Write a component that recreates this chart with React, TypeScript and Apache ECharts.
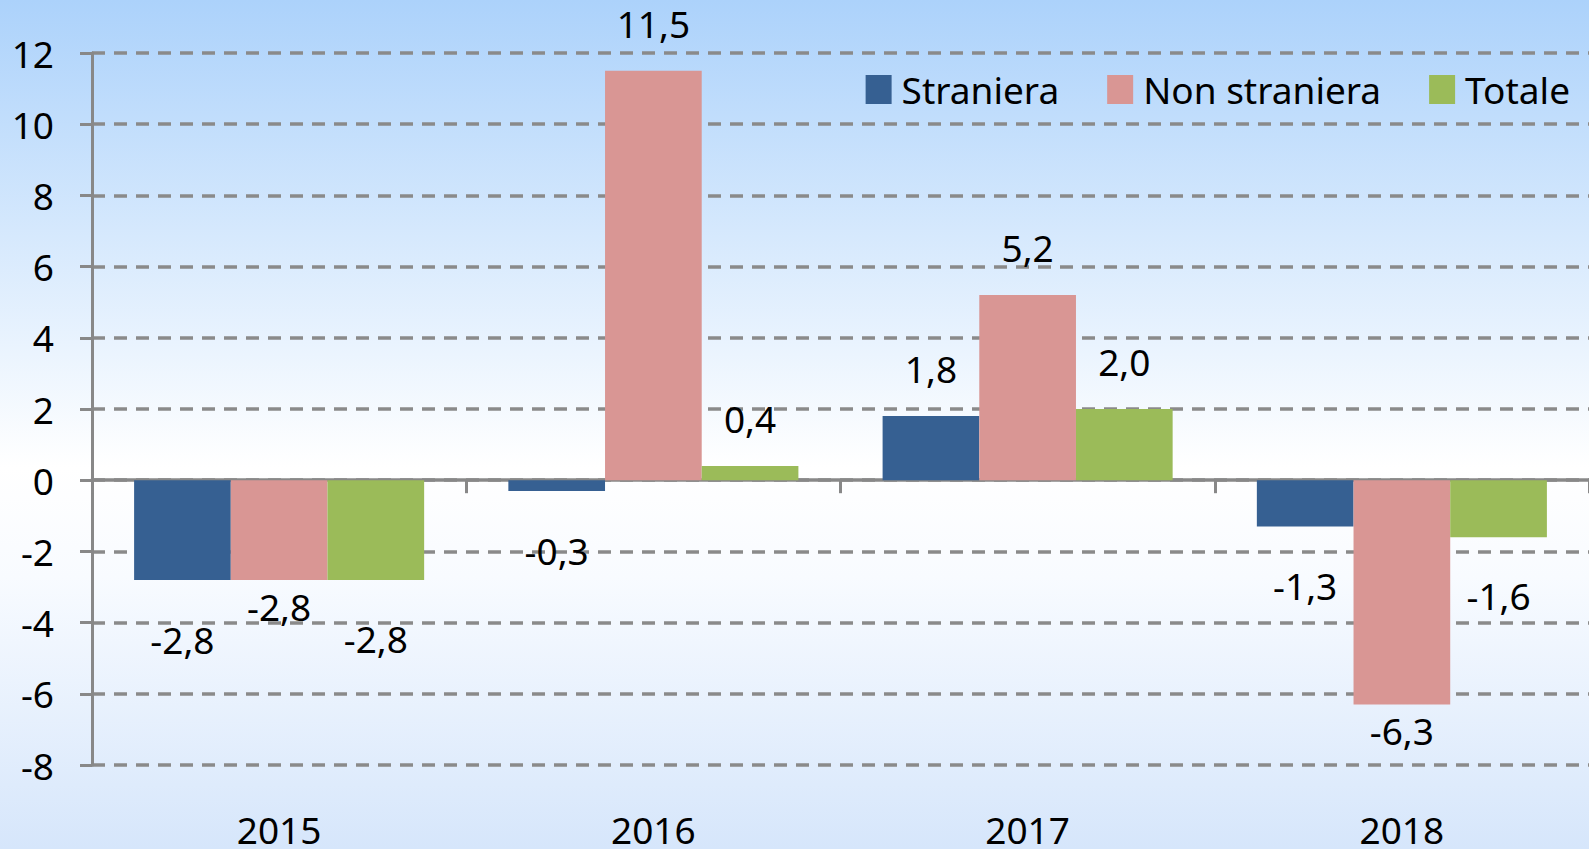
import React, { useEffect, useRef } from "react";
import * as echarts from "echarts";

const years = ["2015", "2016", "2017", "2018"];
const straniera = [-2.8, -0.3, 1.8, -1.3];
const nonStraniera = [-2.8, 11.5, 5.2, -6.3];
const totale = [-2.8, 0.4, 2.0, -1.6];
const seriesNames = ["Straniera", "Non straniera", "Totale"];
const colors = ["#366092", "#d99694", "#9bbb59"];
const yTicks = { min: -8, max: 12, interval: 2 };

const FONT = "'Noto Sans', sans-serif";
const FS = 37;
const fmt = (v: number) => v.toFixed(1).replace(".", ",");

function makeData(values: number[], negDistance: number) {
  return values.map((v) => ({
    value: v,
    label: {
      position: v < 0 ? "bottom" : "top",
      distance: v < 0 ? negDistance : 29,
    },
  }));
}

export default function App() {
  const ref = useRef<HTMLDivElement>(null);
  useEffect(() => {
    if (!ref.current) return;
    const chart = echarts.init(ref.current, undefined, { renderer: "svg" });
    const labelStyle = {
      show: true,
      fontFamily: FONT,
      fontSize: FS,
      color: "#000",
      formatter: (p: any) => fmt(p.value),
    };
    const all = [straniera, nonStraniera, totale];
    const negDist = [41, 8, 40];
    chart.setOption({
      animation: false,
      backgroundColor: {
        type: "linear",
        x: 0,
        y: 0,
        x2: 0,
        y2: 1,
        colorStops: [
          { offset: 0, color: "#acd2fb" },
          { offset: 0.55, color: "#ffffff" },
          { offset: 0.68, color: "#f8fbff" },
          { offset: 1, color: "#d6e6fb" },
        ],
      },
      grid: { left: 92, right: 0, top: 53, bottom: 84, containLabel: false },
      legend: {
        right: 14,
        top: 66,
        itemWidth: 26,
        itemHeight: 29,
        itemGap: 48,
        icon: "rect",
        data: seriesNames,
        textStyle: { fontFamily: FONT, fontSize: FS, color: "#000", padding: [0, 0, 0, 5] },
      },
      xAxis: [
        {
          type: "category",
          data: years,
          position: "bottom",
          axisLine: { show: false, onZero: false },
          axisTick: { show: false },
          axisLabel: { fontFamily: FONT, fontSize: FS, color: "#000", margin: 46 },
        },
        {
          type: "category",
          data: years,
          position: "bottom",
          axisLine: { show: true, onZero: true, lineStyle: { color: "#888888", width: 3.5 } },
          axisTick: { show: true, length: 13, lineStyle: { color: "#888888", width: 3 } },
          axisLabel: { show: false },
        },
      ],
      yAxis: {
        type: "value",
        min: yTicks.min,
        max: yTicks.max,
        interval: yTicks.interval,
        axisLine: { show: true, lineStyle: { color: "#888888", width: 3 } },
        axisTick: { show: true, length: 12, lineStyle: { color: "#888888", width: 3 } },
        axisLabel: { fontFamily: FONT, fontSize: FS, color: "#000", margin: 38 },
        splitLine: {
          show: true,
          lineStyle: { color: "#8a8a8a", width: 3.5, type: [13, 9] },
        },
      },
      series: all.map((vals, i) => ({
        name: seriesNames[i],
        type: "bar",
        xAxisIndex: 0,
        barGap: "0%",
        barCategoryGap: "22.5%",
        itemStyle: { color: colors[i] },
        label: labelStyle,
        data: makeData(vals, negDist[i]),
        z: 3,
      })),
    });
    return () => chart.dispose();
  }, []);
  return (
    <div
      ref={ref}
      style={{ position: "absolute", left: 0, top: 0, width: 1589, height: 849 }}
    />
  );
}
